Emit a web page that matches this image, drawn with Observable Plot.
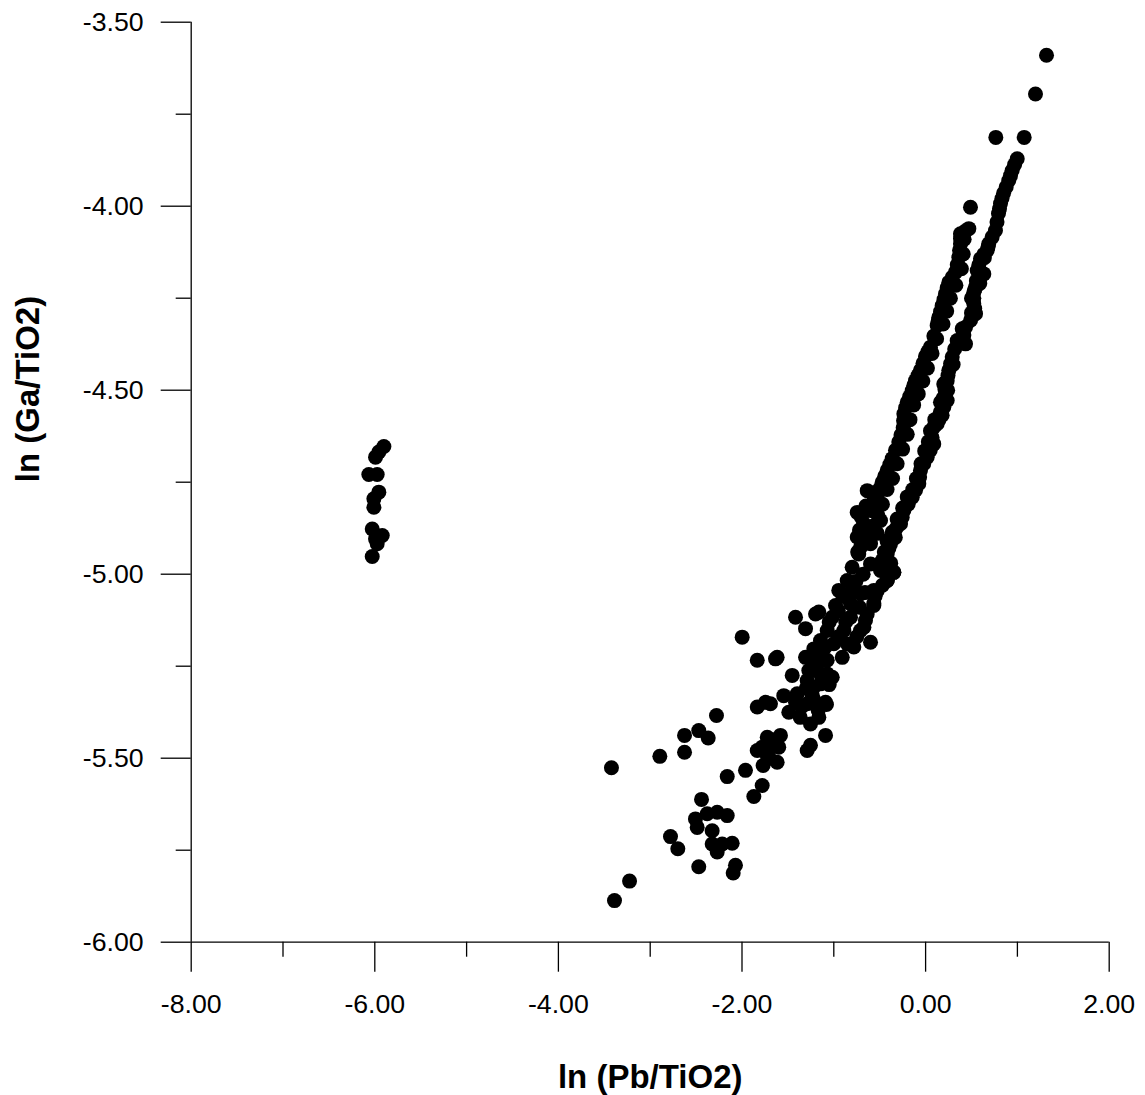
<!DOCTYPE html>
<html>
<head>
<meta charset="utf-8">
<script src="https://cdn.jsdelivr.net/npm/d3@7"></script>
<script src="https://cdn.jsdelivr.net/npm/@observablehq/plot@0.6"></script>
<style>
  html, body { margin: 0; padding: 0; background: #fff; }
</style>
</head>
<body>
<div id="chart"></div>
<script>
// ln (Pb/TiO2)
const lnPb = [
  1.317, 1.197, 0.765, 1.074, 0.998, 0.943, 0.906, 0.849, 0.816, 0.794, 0.761,
  0.489, 0.471, 0.380, 0.380, 0.362, 0.326, 0.253, 0.217, 0.181, 0.144, 0.126,
  0.053, -0.001, -0.056, -0.110, -0.146, -0.200, -0.237, -0.244, -0.292, -0.364,
  -0.418, -0.473, -0.636, -0.527, -0.745, -0.600, -0.673, -0.745, -0.600, -0.728, -0.709,
  0.688, 0.671, 0.598, 0.562, 0.634, 0.544, 0.525, 0.525, 0.544, 0.435, 0.399,
  0.435, 0.344, 0.290, 0.253, 0.235, 0.198, 0.217, 0.162, 0.198, 0.235, 0.126,
  0.053, 0.089, 0.017, -0.056, -0.074, -0.146, -0.237, -0.273, -0.364, -0.382,
  -0.418, -0.491, -0.527, -0.346, -0.491, -0.600, -0.800, -0.854, -0.418, -0.946,
  -0.564, -0.707, -0.981, -0.818, -0.564, -1.417, -1.199, -1.308, -1.017, -0.818,
  -0.655, -1.072, -0.891, -0.709, -0.600, -0.782, -1.145, -1.218, -1.000, -0.908,
  -1.308, -1.635, -1.145, -1.254, -1.072, -1.453, -1.290, -1.145, -1.017, -1.545,
  -1.399, -1.235, -1.090, -1.290, -1.690, -1.998, -1.163, -1.834, -1.617, -1.490,
  -1.417, -1.834, -1.744, -2.278, -2.471, -2.368, -2.626, -2.626, -2.895, -3.422,
  -2.161, -1.962, -1.780, -1.871, -1.834, -1.725, -1.581, -1.617, -1.725, -1.671,
  -1.290, -1.254, -1.090, -1.366, -1.254, -1.163, -1.080, -1.218, -1.272, -1.072,
  -1.181,
  // lower scatter
  -2.441, -2.507, -2.379, -2.270, -2.161, -2.488, -2.325, -2.779, -2.699, -2.325,
  -2.270, -2.107, -2.216, -2.471, -2.071, -2.096, -3.225, -3.389,
  // isolated group near -6
  -5.901, -5.956, -5.992, -6.065, -5.974, -5.956, -6.010, -6.010, -6.028, -5.919,
  -5.992, -5.974, -6.028,
  // left (upper) band, further readings
  0.430, 0.380, 0.370, 0.345, 0.290, 0.235, 0.200, 0.163, 0.135, 0.090, 0.026,
  -0.028, -0.083, -0.128, -0.173, -0.218, -0.240, -0.268, -0.328, -0.390, -0.445,
  -0.500, -0.560, -0.650, -0.700, -0.720, -0.680, -0.740,
  0.420, 0.410, 0.390, 0.330, 0.270, 0.230, 0.190, 0.120, 0.070, 0.020, -0.030,
  -0.080, -0.130, -0.170, -0.200, -0.250, -0.310, -0.360, -0.420, -0.470, -0.520,
  -0.580, -0.630,
  // right (lower) band, further readings
  0.725, 0.970, 0.925, 0.878, 0.832, 0.805, 0.778, 0.680, 0.635, 0.580, 0.590,
  0.553, 0.535, 0.525, 0.535, 0.490, 0.417, 0.390, 0.317, 0.272, 0.244, 0.217,
  0.210, 0.190, 0.180, 0.145, 0.090, 0.070, 0.050, -0.020, -0.065, -0.110, -0.190,
  -0.255, -0.320, -0.373, -0.400, -0.380, -0.440, -0.473, -0.346, -0.418, -0.527,
  -0.564, -0.636, -0.672, -0.470, -0.550,
  0.640, 0.590, 0.500, 0.500, 0.390, 0.300, 0.240, 0.160, 0.100, 0.030, -0.010,
  -0.050, -0.100, -0.140, -0.200, -0.250, -0.310, -0.330, -0.420, -0.450,
  // dense middle cluster
  -0.900, -0.950, -0.870, -1.050, -1.100, -1.200, -0.950, -0.750, -1.150, -1.200,
  -1.050, -1.300, -1.220, -1.350, -1.170, -0.850, -0.680, -0.760, -0.660, -0.820,
  -0.720,
  // cluster near -1.7
  -1.780, -1.700, -1.650, -1.770, -1.600
];
// ln (Ga/TiO2)
const lnGa = [
  -3.590, -3.695, -3.813, -3.813, -3.871, -3.903, -3.930, -3.965, -3.993, -4.020, -4.066,
  -4.003, -4.061, -4.075, -4.102, -4.139, -4.179, -4.207, -4.238, -4.270, -4.302, -4.324,
  -4.383, -4.408, -4.446, -4.474, -4.501, -4.533, -4.564, -4.602, -4.641, -4.686,
  -4.718, -4.750, -4.773, -4.786, -4.832, -4.827, -4.863, -4.899, -4.917, -4.945, -4.927,
  -4.102, -4.120, -4.143, -4.175, -4.184, -4.220, -4.234, -4.265, -4.292, -4.329, -4.333,
  -4.374, -4.365, -4.410, -4.446, -4.474, -4.483, -4.510, -4.533, -4.546, -4.528, -4.591,
  -4.610, -4.646, -4.682, -4.718, -4.754, -4.791, -4.827, -4.863, -4.886, -4.917,
  -4.945, -4.854, -4.889, -4.995, -4.990, -4.972, -4.981, -5.017, -5.017, -5.044,
  -5.044, -5.053, -5.085, -5.080, -5.085, -5.117, -5.108, -5.148, -5.117, -5.117,
  -5.126, -5.153, -5.153, -5.153, -5.185, -5.198, -5.180, -5.203, -5.189, -5.226,
  -5.226, -5.230, -5.234, -5.262, -5.271, -5.275, -5.289, -5.298, -5.280, -5.330,
  -5.325, -5.330, -5.348, -5.352, -5.352, -5.171, -5.103, -5.234, -5.226, -5.375,
  -5.348, -5.361, -5.348, -5.384, -5.425, -5.445, -5.438, -5.484, -5.495, -5.526,
  -5.550, -5.533, -5.574, -5.604, -5.479, -5.443, -5.438, -5.511, -5.493, -5.465,
  -5.479, -5.465, -5.438, -5.389, -5.407, -5.389, -5.354, -5.307, -5.262, -5.234,
  -5.243,
  // lower scatter
  -5.612, -5.665, -5.651, -5.647, -5.656, -5.688, -5.697, -5.713, -5.746, -5.733,
  -5.755, -5.731, -5.733, -5.795, -5.791, -5.812, -5.834, -5.887,
  // isolated group near -6
  -4.653, -4.668, -4.682, -4.729, -4.729, -4.777, -4.795, -4.818, -4.877, -4.895,
  -4.904, -4.917, -4.952,
  // left (upper) band
  -4.068, -4.088, -4.120, -4.159, -4.193, -4.222, -4.254, -4.286, -4.313, -4.353, -4.395,
  -4.427, -4.460, -4.487, -4.517, -4.548, -4.583, -4.622, -4.663, -4.702, -4.734,
  -4.768, -4.800, -4.815, -4.845, -4.880, -4.910, -4.940,
  -4.090, -4.130, -4.170, -4.215, -4.250, -4.285, -4.320, -4.360, -4.400, -4.440, -4.475,
  -4.510, -4.540, -4.580, -4.620, -4.660, -4.700, -4.740, -4.770, -4.810, -4.840,
  -4.870, -4.900,
  // right (lower) band
  -4.084, -3.887, -3.917, -3.948, -3.979, -4.007, -4.043, -4.111, -4.131, -4.160, -4.180,
  -4.203, -4.227, -4.250, -4.278, -4.310, -4.350, -4.370, -4.388, -4.428, -4.460, -4.479,
  -4.497, -4.522, -4.568, -4.580, -4.600, -4.628, -4.664, -4.700, -4.736, -4.772, -4.810,
  -4.845, -4.875, -4.900, -4.930, -4.970, -4.990, -4.963, -4.995, -5.017, -5.045,
  -5.080, -5.108, -5.144, -5.030, -5.060,
  -4.140, -4.210, -4.250, -4.290, -4.360, -4.430, -4.500, -4.560, -4.580, -4.640, -4.665,
  -4.700, -4.740, -4.770, -4.790, -4.820, -4.850, -4.900, -4.910, -4.940,
  // dense middle cluster
  -5.060, -5.100, -5.130, -5.130, -5.200, -5.220, -5.170, -5.170, -5.270, -5.250,
  -5.300, -5.310, -5.340, -5.360, -5.370, -5.190, -5.000, -5.020, -5.050, -5.050,
  -5.090,
  // cluster near -1.7
  -5.470, -5.500, -5.450, -5.520, -5.470
];

const xMajor = [-8, -6, -4, -2, 0, 2];
const xMinor = [-7, -5, -3, -1, 1];
const yMajor = [-6, -5.5, -5, -4.5, -4, -3.5];
const yMinor = [-5.75, -5.25, -4.75, -4.25, -3.75];
const xTitle = "ln (Pb/TiO2)";
const yTitle = "ln (Ga/TiO2)";

const n = Math.min(lnPb.length, lnGa.length);
const points = d3.range(n).map(i => ({x: lnPb[i], y: lnGa[i]}));

const fmt = d => d.toFixed(2);

const chart = Plot.plot({
  width: 1145,
  height: 1095,
  marginLeft: 190.7,
  marginRight: 36.3,
  marginTop: 21.7,
  marginBottom: 153.3,
  x: {domain: [-8, 2]},
  y: {domain: [-6, -3.5]},
  style: {
    fontFamily: "'Liberation Sans', Arial, sans-serif",
    fontSize: "26.7px",
    color: "#000",
    background: "#fff"
  },
  marks: [
    Plot.axisX(xMajor, {tickSize: 30, tickPadding: 22, tickFormat: fmt, label: null, fontSize: 26.7, strokeWidth: 1.3, stroke: "#000"}),
    Plot.axisX(xMinor, {tickSize: 15, tickFormat: () => "", label: null, strokeWidth: 1.3, stroke: "#000"}),
    Plot.axisY(yMajor, {tickSize: 30, tickPadding: 17.5, tickFormat: fmt, label: null, fontSize: 26.7, strokeWidth: 1.3, stroke: "#000"}),
    Plot.axisY(yMinor, {tickSize: 15, tickFormat: () => "", label: null, strokeWidth: 1.3, stroke: "#000"}),
    Plot.ruleX([-8], {stroke: "#000", strokeWidth: 1.3}),
    Plot.ruleY([-6], {stroke: "#000", strokeWidth: 1.3}),
    Plot.dot(points, {x: "x", y: "y", r: 7.5, fill: "#000", stroke: null}),
    Plot.text([xTitle], {frameAnchor: "bottom", lineAnchor: "middle", dy: 135, fontWeight: "bold", fontSize: 33, fill: "#000"}),
    Plot.text([yTitle], {frameAnchor: "left", lineAnchor: "middle", rotate: -90, dx: -163, fontWeight: "bold", fontSize: 33, fill: "#000"})
  ]
});
document.getElementById("chart").appendChild(chart);
</script>
</body>
</html>
